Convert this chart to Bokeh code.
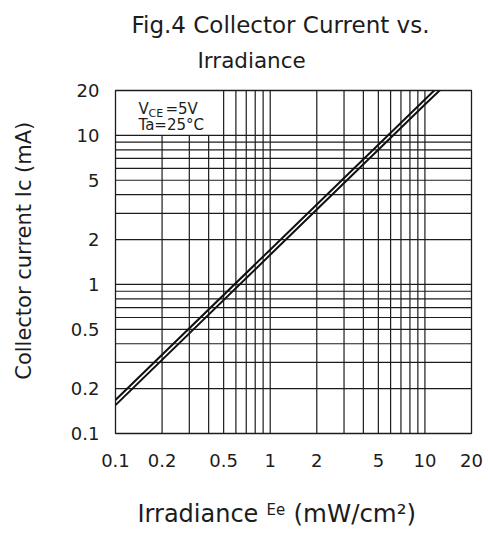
import math
from bokeh.plotting import figure
from bokeh.layouts import column, row
from bokeh.models import Range1d, FixedTicker, CustomJSTickFormatter, Label
from bokeh.core.properties import value
from bokeh.embed import file_html
from bokeh.resources import INLINE

# ---- data ----
irradiance_upper = [0.1, 1, 10, 12]
ic_upper = [0.168, 1.71, 17.4, 20.9]
irradiance_lower = [0.1, 1, 10, 13]
ic_lower = [0.155, 1.58, 16.1, 20.9]

x_ticks = [0.1, 0.2, 0.5, 1, 2, 5, 10, 20]
y_ticks = [0.1, 0.2, 0.5, 1, 2, 5, 10, 20]

x_grid_short = [0.2, 0.3, 0.4]
x_grid_full = [0.5, 0.6, 0.7, 0.8, 0.9, 1, 2, 3, 4, 5, 6, 7, 8, 9, 10]
y_grid = [0.2, 0.3, 0.4, 0.5, 0.6, 0.7, 0.8, 0.9, 1, 2, 3, 4, 5, 6, 7, 8, 9, 10]

X_MIN, X_MAX = 0.1, 20
Y_MIN, Y_MAX = 0.1, 20
LEGEND_TOP = 10

FONT = "DejaVu Sans"
INK = "#1c1c1c"

W, H = 488, 533
TOP_H, BOT_H, LEFT_W = 72, 50, 60
MAIN_H = H - TOP_H - BOT_H
MAIN_W = W - LEFT_W
FL, FR, FT, FB = 115, 471, 90, 433   # frame edges on the page
BASE_FIX = 0.37                       # rendered baseline sits this many em lower


def text_fig(width, height):
    f = figure(width=width, height=height, x_range=Range1d(0, width), y_range=Range1d(0, height),
               output_backend="svg", toolbar_location=None,
               x_axis_location=None, y_axis_location=None, min_border=0)
    f.grid.visible = False
    f.outline_line_color = None
    f.background_fill_color = "white"
    f.border_fill_color = "white"
    return f


def put(f, x, y, text, size, align="left", baseline="alphabetic", angle=0.0):
    f.text(x=[x], y=[y], text=[text], text_font=value(FONT), text_font_size=value(f"{size}px"),
           text_color=INK, text_align=align, text_baseline=baseline, angle=angle)


# ---- main chart ----
p = figure(width=MAIN_W, height=MAIN_H, x_axis_type="log", y_axis_type="log",
           x_range=Range1d(X_MIN, X_MAX), y_range=Range1d(Y_MIN, Y_MAX),
           output_backend="svg", toolbar_location=None,
           min_border_left=FL - LEFT_W, min_border_right=W - FR,
           min_border_top=FT - TOP_H, min_border_bottom=H - BOT_H - FB)
p.background_fill_color = "white"
p.border_fill_color = "white"
p.outline_line_color = INK
p.outline_line_width = 1.3
p.grid.visible = False

# grid lines
gx0, gy0, gx1, gy1 = [], [], [], []
for xv in x_grid_short:
    gx0.append(xv); gy0.append(Y_MIN); gx1.append(xv); gy1.append(LEGEND_TOP)
for xv in x_grid_full:
    gx0.append(xv); gy0.append(Y_MIN); gx1.append(xv); gy1.append(Y_MAX)
for yv in y_grid:
    gx0.append(X_MIN); gy0.append(yv); gx1.append(X_MAX); gy1.append(yv)
p.segment(x0=gx0, y0=gy0, x1=gx1, y1=gy1, line_color=INK, line_width=1.2)

# curves
p.line(irradiance_upper, ic_upper, line_color="#111111", line_width=2)
p.line(irradiance_lower, ic_lower, line_color="#111111", line_width=2)

# axes
for ax, ticks in ((p.xaxis, x_ticks), (p.yaxis, y_ticks)):
    ax.ticker = FixedTicker(ticks=ticks, minor_ticks=[])
    ax.formatter = CustomJSTickFormatter(code="return String(tick);")
    ax.axis_line_color = None
    ax.major_tick_line_color = None
    ax.minor_tick_line_color = None
    ax.major_label_text_font = FONT
    ax.major_label_text_font_size = "18px"
    ax.major_label_text_color = INK
p.xaxis.major_label_standoff = 14
p.yaxis.major_label_standoff = 10


# legend text placed by page pixel inside the frame
def px_x(px):
    return 10 ** (math.log10(X_MIN) + (px - FL) / (FR - FL) * math.log10(X_MAX / X_MIN))


def px_y(py):
    return 10 ** (math.log10(Y_MIN) + (FB - py) / (FB - FT) * math.log10(Y_MAX / Y_MIN))


def legend_text(px, base, text, size):
    p.add_layout(Label(x=px_x(px), y=px_y(base - BASE_FIX * size), text=text, text_font=FONT,
                       text_font_size=f"{size}px", text_color=INK, text_align="left",
                       text_baseline="alphabetic"))


legend_text(138, 114, "V", 15)
legend_text(148, 117, "CE", 11)
legend_text(165, 114, "=5V", 15)
legend_text(138, 130, "Ta=25°C", 15)

# ---- title ----
top = text_fig(W, TOP_H)
put(top, 131, TOP_H - (33 - BASE_FIX * 23), "Fig.4 Collector Current vs.", 23)
put(top, 197, TOP_H - (68 - BASE_FIX * 21.5), "Irradiance", 21.5)

# ---- y axis title ----
left = text_fig(LEFT_W, MAIN_H)
put(left, 23, MAIN_H - (264 - TOP_H), "Collector current Ic (mA)", 21,
    align="center", baseline="middle", angle=math.pi / 2)

# ---- x axis title ----
bot = text_fig(W, BOT_H)
y0 = H - BOT_H
put(bot, 137, BOT_H - (522 - BASE_FIX * 24 - y0), "Irradiance", 24)
put(bot, 266, BOT_H - (515 - BASE_FIX * 15 - y0), "Ee", 15)
put(bot, 293, BOT_H - (522 - BASE_FIX * 24 - y0), "(mW/cm²)", 24.5)

layout = column(top, row(left, p), bot)
open("out.html", "w").write(file_html(layout, INLINE))
